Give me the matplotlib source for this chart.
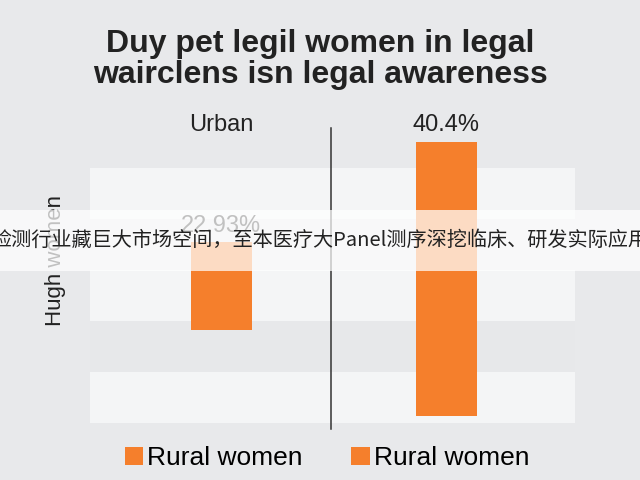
import matplotlib
matplotlib.use("Agg")
import matplotlib.pyplot as plt
from matplotlib.patches import Rectangle, Patch

# ---- data ----
categories = ["Urban", "Rural"]
bar_bottoms = [1.82, 0.14]
bar_tops = [3.55, 5.51]
value_labels = ["22.93%", "40.4%"]
legend_labels = ["Rural women", "Rural women"]
title_text = "Duy pet legil women in legal\nwairclens isn legal awareness"
ylabel_text = "Hugh women"
banner_text = "检测行业藏巨大市场空间，至本医疗大Panel测序深挖临床、研发实际应用"

BG = "#e8e9eb"
BAND = "#f4f5f6"
ORANGE = "#f57f2c"
DARK = "#222222"

W, H = 640, 480
fig = plt.figure(figsize=(6.4, 4.8), dpi=100, facecolor=BG)

def px(x0, y0, x1, y1):
    # convert pixel box (top-left origin) to figure fraction
    return [x0 / W, 1 - y1 / H, (x1 - x0) / W, (y1 - y0) / H]

ax = fig.add_axes(px(90, 128, 575, 423))
ax.set_facecolor(BG)
ax.set_xlim(0, 2)
ax.set_ylim(0, 5.78)
for s in ax.spines.values():
    s.set_visible(False)
ax.set_xticks([])
ax.set_yticks([])

# horizontal bands
for b in range(5):
    ax.axhspan(b, b + 1, color=BAND if b % 2 == 0 else "#e7e8ea", lw=0, zorder=0)

# divider line
ax.plot([0.994, 0.994], [-0.12, 5.78], color="#333333", lw=1.1, clip_on=False, zorder=2)

xpos = [0.542, 1.47]
heights = [t - b for t, b in zip(bar_tops, bar_bottoms)]
ax.bar(xpos, heights, bottom=bar_bottoms, width=0.25, color=ORANGE, zorder=3)

# labels
lab_kw = dict(ha="center", va="center", fontsize=17, color=DARK,
              family="Liberation Sans", clip_on=False, zorder=4)
ax.text(xpos[0], 3.86, value_labels[0], **lab_kw)
ax.text(xpos[0], 5.84, categories[0], **lab_kw)
ax.text(xpos[1], 5.84, value_labels[1], **lab_kw)

# title
fig.text(0.5, 1 - 59.5 / H, title_text, ha="center", va="center",
         fontsize=23, fontweight="bold", color=DARK, family="Liberation Sans",
         linespacing=1.05)

# y label
fig.text(55 / W, 1 - 260 / H, ylabel_text, rotation=90, ha="center", va="center",
         fontsize=16, color=DARK, family="Liberation Sans")

# legend
handles = [Patch(facecolor=ORANGE, edgecolor="none") for _ in legend_labels]
fig.legend(handles, legend_labels, loc="center", bbox_to_anchor=(327 / W, 1 - 458 / H),
           ncol=2, frameon=False, prop={"family": "Liberation Sans", "size": 19},
           handlelength=0.7, handleheight=0.7, handletextpad=0.15, columnspacing=1.85)

# overlay banner
fig.patches.append(Rectangle((0, 1 - 271 / H), 1, 61 / H, transform=fig.transFigure,
                             facecolor="white", alpha=0.72, edgecolor="none", zorder=10))
fig.text(0.5, 1 - 240 / H, banner_text, ha="center", va="center", fontsize=14.5,
         color="#222222", family=["Noto Sans CJK SC", "DejaVu Sans"], zorder=11)

fig.savefig("out.png", dpi=100, facecolor=BG)
